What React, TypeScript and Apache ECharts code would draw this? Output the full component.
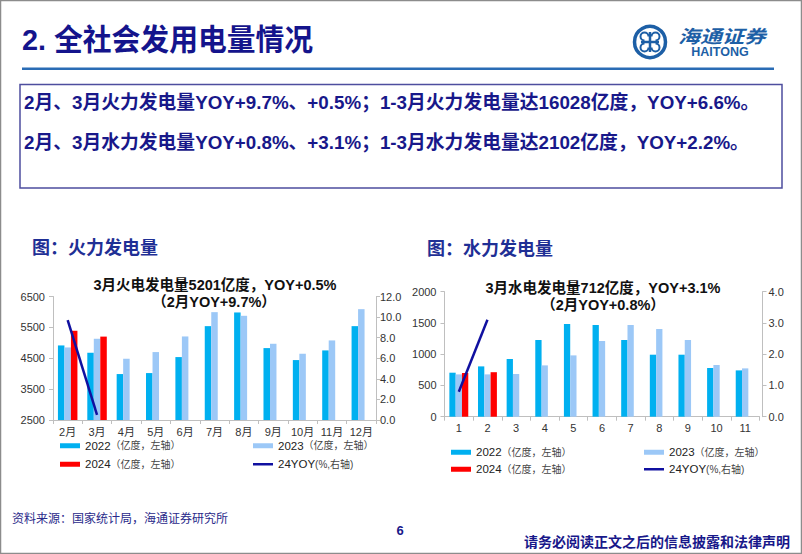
import React, { useEffect, useRef } from 'react';
import * as echarts from 'echarts';

// ---------- data ----------
const thermalCats = ['2月', '3月', '4月', '5月', '6月', '7月', '8月', '9月', '10月', '11月', '12月'];
const thermal2022 = [4915, 4678, 3988, 4020, 4538, 5540, 5983, 4829, 4441, 4754, 5540];
const thermal2023 = [4850, 5131, 4484, 4700, 5206, 5993, 5875, 4969, 4646, 5077, 6090];
const thermal2024 = [5390, 5201, null, null, null, null, null, null, null, null, null];
const thermalYoy = [9.7, 0.5, null, null, null, null, null, null, null, null, null];

const hydroCats = ['1', '2', '3', '4', '5', '6', '7', '8', '9', '10', '11'];
const hydro2022 = [704, 805, 923, 1227, 1483, 1467, 1227, 992, 992, 779, 741];
const hydro2023 = [677, 677, 683, 821, 981, 1211, 1467, 1403, 1227, 827, 773];
const hydro2024 = [699, 712, null, null, null, null, null, null, null, null, null];
const hydroYoy = [0.8, 3.1, null, null, null, null, null, null, null, null, null];

const thermalLeftTicks = { min: 2500, max: 6500, interval: 1000 };
const thermalRightTicks = { min: 0, max: 12, interval: 2 };
const hydroLeftTicks = { min: 0, max: 2000, interval: 500 };
const hydroRightTicks = { min: 0, max: 4, interval: 1 };

const N2022 = '2022（亿度，左轴）';
const N2023 = '2023（亿度，左轴）';
const N2024 = '2024（亿度，左轴）';
const NYOY = '24YOY(%,右轴)';

const C2022 = '#00b0f0';
const C2023 = '#9cc8f7';
const C2024 = '#ff0000';
const CYOY = '#1010a0';
const NAVY = '#18188a';
const LOGO = '#1d5fa6';
const FONT = '"Liberation Sans", Arial, "Noto Sans CJK SC", sans-serif';
const CJK = '"Noto Sans CJK SC", "Liberation Sans", sans-serif';

export default function App() {
  const ref = useRef<HTMLDivElement>(null);

  useEffect(() => {
    document.body.style.margin = '0';
    const chart = echarts.init(ref.current as HTMLDivElement, undefined, { renderer: 'svg' });

    const axisLineGray = { show: true, lineStyle: { color: '#bfbfbf', width: 1 } };
    const tick = { show: true, length: 4, lineStyle: { color: '#bfbfbf' } };
    const lbl = { fontSize: 11, color: '#333', fontFamily: FONT };
    const plain = (v: number) => String(v);

    const legendBase = (name: string, left: number, top: number, line = false) => ({
      data: [name],
      left,
      top,
      padding: 0,
      itemWidth: 20,
      itemHeight: line ? 2.5 : 5,
      icon: 'rect',
      selectedMode: false,
      formatter: (n: string) => {
        const i = n.search(/[（(]/);
        return '{a|' + n.slice(0, i) + '}{b|' + n.slice(i) + '}';
      },
      textStyle: {
        rich: {
          a: { fontSize: 11.5, color: '#222', fontFamily: FONT },
          b: { fontSize: 10, color: '#444', fontFamily: FONT },
        },
      },
    });

    const barSeries = (name: string, data: any[], color: string, xi: number, yi: number, w: number) => ({
      name,
      type: 'bar',
      data,
      xAxisIndex: xi,
      yAxisIndex: yi,
      barWidth: w,
      barGap: '0%',
      itemStyle: { color },
    });

    const titleText = (text: string, x: number, y: number) => ({
      type: 'text',
      style: { text, x, y, textAlign: 'center', textVerticalAlign: 'middle', fontSize: 14.5, fontWeight: 'bold', fontFamily: FONT, fill: '#111' },
    });

    const option: any = {
      animation: false,
      backgroundColor: '#ffffff',
      grid: [
        { left: 53, top: 296.5, width: 323, height: 123.5 },
        { left: 444.5, top: 291.7, width: 315, height: 125 },
      ],
      xAxis: [
        {
          gridIndex: 0, type: 'category', data: thermalCats,
          axisLine: axisLineGray, axisTick: tick,
          axisLabel: { ...lbl, margin: 6, interval: 0 },
        },
        {
          gridIndex: 1, type: 'category', data: hydroCats,
          axisLine: axisLineGray, axisTick: tick,
          axisLabel: { ...lbl, margin: 6, interval: 0 },
        },
      ],
      yAxis: [
        {
          gridIndex: 0, type: 'value', ...thermalLeftTicks,
          axisLine: axisLineGray, axisTick: tick, splitLine: { show: false },
          axisLabel: { ...lbl, margin: 8, formatter: plain },
        },
        {
          gridIndex: 0, type: 'value', position: 'right', ...thermalRightTicks,
          axisLine: axisLineGray, axisTick: tick, splitLine: { show: false },
          axisLabel: { ...lbl, margin: 4, formatter: (v: number) => v.toFixed(1) },
        },
        {
          gridIndex: 1, type: 'value', ...hydroLeftTicks,
          axisLine: axisLineGray, axisTick: tick, splitLine: { show: false },
          axisLabel: { ...lbl, margin: 8, formatter: plain },
        },
        {
          gridIndex: 1, type: 'value', position: 'right', offset: 3, ...hydroRightTicks,
          axisLine: axisLineGray, axisTick: tick, splitLine: { show: false },
          axisLabel: { ...lbl, margin: 6, formatter: (v: number) => v.toFixed(1) },
        },
      ],
      legend: [
        legendBase(N2022, 60, 440),
        legendBase(N2023, 253, 440),
        legendBase(N2024, 60, 458.5),
        legendBase(NYOY, 253, 458.5, true),
        legendBase(N2022, 451, 446.5),
        legendBase(N2023, 644, 446.5),
        legendBase(N2024, 451, 463.5),
        legendBase(NYOY, 644, 463.5, true),
      ],
      series: [
        barSeries(N2022, thermal2022, C2022, 0, 0, 6.5),
        barSeries(N2023, thermal2023, C2023, 0, 0, 6.5),
        barSeries(N2024, thermal2024, C2024, 0, 0, 6.5),
        {
          name: NYOY, type: 'line', data: thermalYoy, xAxisIndex: 0, yAxisIndex: 1,
          symbol: 'none', lineStyle: { color: CYOY, width: 2.5 }, itemStyle: { color: CYOY }, z: 5,
        },
        barSeries(N2022, hydro2022, C2022, 1, 2, 6.3),
        barSeries(N2023, hydro2023, C2023, 1, 2, 6.3),
        barSeries(N2024, hydro2024, C2024, 1, 2, 6.3),
        {
          name: NYOY, type: 'line', data: hydroYoy, xAxisIndex: 1, yAxisIndex: 3,
          symbol: 'none', lineStyle: { color: CYOY, width: 2.5 }, itemStyle: { color: CYOY }, z: 5,
        },
      ],
      graphic: [
        // frame
        { type: 'rect', shape: { x: 0.5, y: 0.5, width: 801, height: 553 }, style: { fill: 'none', stroke: '#8c8c8c', lineWidth: 1.5 }, silent: true },
        // header title
        {
          type: 'text', x: 22, y: 39, scaleX: 0.96,
          style: { text: '2. 全社会发用电量情况', x: 0, y: 0, textVerticalAlign: 'middle', fontSize: 30, fontWeight: 'bold', fontFamily: FONT, fill: '#14148c' },
        },
        // logo
        { type: 'circle', shape: { cx: 650, cy: 42, r: 15.5 }, style: { fill: 'none', stroke: LOGO, lineWidth: 3.5 } },
        { type: 'line', shape: { x1: 641, y1: 42, x2: 659, y2: 42 }, style: { stroke: LOGO, lineWidth: 2.5 } },
        { type: 'line', shape: { x1: 650, y1: 32, x2: 650, y2: 52 }, style: { stroke: LOGO, lineWidth: 2.5 } },
        { type: 'arc', shape: { cx: 644.5, cy: 36.5, r: 4, startAngle: Math.PI * 0.5, endAngle: Math.PI * 2 }, style: { fill: 'none', stroke: LOGO, lineWidth: 2 } },
        { type: 'arc', shape: { cx: 655.5, cy: 36.5, r: 4, startAngle: Math.PI, endAngle: Math.PI * 2.5 }, style: { fill: 'none', stroke: LOGO, lineWidth: 2 } },
        { type: 'arc', shape: { cx: 644.5, cy: 47.5, r: 4, startAngle: 0, endAngle: Math.PI * 1.5 }, style: { fill: 'none', stroke: LOGO, lineWidth: 2 } },
        { type: 'arc', shape: { cx: 655.5, cy: 47.5, r: 4, startAngle: Math.PI * 1.5, endAngle: Math.PI * 3 }, style: { fill: 'none', stroke: LOGO, lineWidth: 2 } },
        {
          type: 'text', x: 678, y: 35, scaleX: 1.22,
          style: { text: '海通证券', x: 0, y: 0, textVerticalAlign: 'middle', fontSize: 18, fontWeight: 'bold', fontStyle: 'italic', fontFamily: CJK, fill: LOGO },
        },
        {
          type: 'text',
          style: { text: 'HAITONG', x: 720, y: 51.5, textAlign: 'center', textVerticalAlign: 'middle', fontSize: 12.5, fontWeight: 'bold', fontFamily: FONT, fill: LOGO },
        },
        // separator
        { type: 'rect', shape: { x: 22, y: 67.5, width: 752, height: 2.5 }, style: { fill: '#2a6cb5' } },
        // text box
        { type: 'rect', shape: { x: 20, y: 84.5, width: 762, height: 103.5 }, style: { fill: '#fff', stroke: '#4e4e9e', lineWidth: 1.5 } },
        {
          type: 'text',
          style: { text: '2月、3月火力发电量YOY+9.7%、+0.5%；1-3月火力发电量达16028亿度，YOY+6.6%。', x: 24, y: 102, textVerticalAlign: 'middle', fontSize: 18.8, fontWeight: 'bold', fontFamily: FONT, fill: NAVY },
        },
        {
          type: 'text',
          style: { text: '2月、3月水力发电量YOY+0.8%、+3.1%；1-3月水力发电量达2102亿度，YOY+2.2%。', x: 24, y: 142, textVerticalAlign: 'middle', fontSize: 18.8, fontWeight: 'bold', fontFamily: FONT, fill: NAVY },
        },
        // section labels
        {
          type: 'text',
          style: { text: '图：火力发电量', x: 32, y: 246, textVerticalAlign: 'middle', fontSize: 18, fontWeight: 'bold', fontFamily: CJK, fill: '#1f2f95' },
        },
        {
          type: 'text',
          style: { text: '图：水力发电量', x: 427, y: 247, textVerticalAlign: 'middle', fontSize: 18, fontWeight: 'bold', fontFamily: CJK, fill: '#1f2f95' },
        },
        // chart titles
        titleText('3月火电发电量5201亿度，YOY+0.5%', 215, 285),
        titleText('（2月YOY+9.7%）', 214, 302),
        titleText('3月水电发电量712亿度，YOY+3.1%', 603, 288),
        titleText('（2月YOY+0.8%）', 603, 305),
        // footer
        {
          type: 'text',
          style: { text: '资料来源：国家统计局，海通证券研究所', x: 12, y: 517, textVerticalAlign: 'middle', fontSize: 12, fontFamily: CJK, fill: '#2a2a8a' },
        },
        {
          type: 'text',
          style: { text: '6', x: 400, y: 530, textAlign: 'center', textVerticalAlign: 'middle', fontSize: 13, fontWeight: 'bold', fontFamily: FONT, fill: NAVY },
        },
        {
          type: 'text',
          style: { text: '请务必阅读正文之后的信息披露和法律声明', x: 790, y: 541, textAlign: 'right', textVerticalAlign: 'middle', fontSize: 14, fontWeight: 'bold', fontFamily: CJK, fill: NAVY },
        },
      ],
    };

    chart.setOption(option);
    return () => chart.dispose();
  }, []);

  return (
    <div
      ref={ref}
      style={{ position: 'absolute', left: 0, top: 0, width: 802, height: 554, background: '#fff' }}
    />
  );
}
